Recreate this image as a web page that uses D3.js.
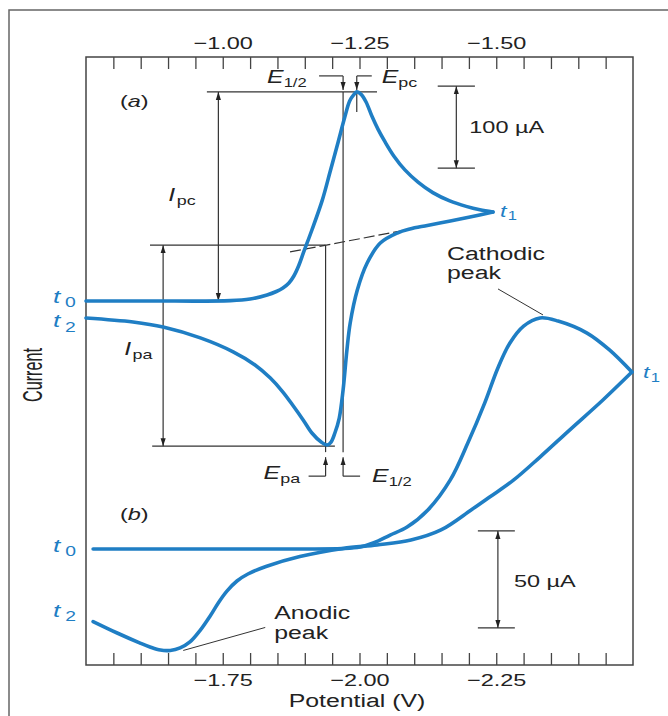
<!DOCTYPE html>
<html>
<head>
<meta charset="utf-8">
<style>
    body { margin: 0; background: #fff; }
    svg { display: block; font-family: 'Liberation Sans', Arial, Helvetica, sans-serif; }
    .axis .domain { display: none; }
    .axis .tick line { stroke: #444; stroke-width: 1.3px; }
    .axis .tick text { font-size: 17px; fill: #222; }
    .note { stroke: #333; stroke-width: 1.2px; fill: none; }
    .trace { fill: none; stroke: #1f7ec4; stroke-width: 3.6px; stroke-linejoin: round; stroke-linecap: round; }
</style>
</head>
<body>
<svg width="668" height="716"></svg>
<script src="https://d3js.org/d3.v7.min.js"></script>
<script>
// labelled potentials (V) on the two axes
let topTickLabels = [-1.00, -1.25, -1.50];
let bottomTickLabels = [-1.75, -2.00, -2.25];

// (a) reversible couple: [potential V, current µA from the t0 baseline]
let aForward = [[-0.750, 0], [-0.867, 0], [-1.014, 0.4], [-1.050, 2.4], [-1.081, 7.3], [-1.098, 11.6],
    [-1.110, 15.9], [-1.121, 22.0], [-1.130, 30.5], [-1.139, 43.3], [-1.148, 59.8], [-1.163, 86.6],
    [-1.182, 123], [-1.196, 157], [-1.211, 194], [-1.223, 224], [-1.232, 244], [-1.240, 252],
    [-1.245, 255], [-1.253, 252], [-1.262, 242.7], [-1.273, 224.9], [-1.284, 209.3], [-1.297, 193.7],
    [-1.313, 176.6], [-1.333, 159.9], [-1.357, 145.0], [-1.384, 132.2], [-1.415, 122.1],
    [-1.445, 115.4], [-1.470, 111.2], [-1.494, 108.5]];
let aReverse = [[-1.494, 108.5], [-1.452, 102.4], [-1.416, 97.6], [-1.374, 92.1], [-1.342, 87.8],
    [-1.319, 82.9], [-1.288, 70.7], [-1.264, 46.3], [-1.246, 13.4], [-1.233, -26.8], [-1.227, -59.8],
    [-1.220, -108.5], [-1.213, -142.7], [-1.205, -161], [-1.198, -172], [-1.191, -175.6], [-1.180, -172],
    [-1.163, -161], [-1.147, -145], [-1.129, -128], [-1.110, -111], [-1.087, -94], [-1.059, -78],
    [-1.019, -62], [-0.959, -45], [-0.891, -31.7], [-0.836, -25.6], [-0.750, -20.7]];
// extrapolated cathodic baseline (dashed)
let aBaseline = [[-1.123, 59.8], [-1.3735, 91.5]];

// (b) irreversible case
let bForward = [[-1.513, 0], [-1.709, 0], [-1.891, 0], [-1.968, 0.2], [-2.001, 1.0], [-2.025, 3.1],
    [-2.056, 7.2], [-2.087, 11.3], [-2.125, 20.1], [-2.166, 35.6], [-2.198, 54.6], [-2.229, 75.3],
    [-2.253, 93.3], [-2.275, 106.2], [-2.300, 114.9], [-2.330, 119.1], [-2.363, 117.5], [-2.416, 111.3],
    [-2.457, 102.6], [-2.498, 91.2]];
let bReverse = [[-2.498, 91.2], [-2.445, 76.8], [-2.384, 61.3], [-2.330, 47.4], [-2.282, 35.6],
    [-2.238, 26.8], [-2.204, 20.1], [-2.149, 9.8], [-2.094, 4.6], [-2.032, 2.1], [-1.970, 0.3],
    [-1.891, -3.9], [-1.829, -9.0], [-1.796, -12.9], [-1.776, -16.5], [-1.758, -21.6], [-1.743, -27.3],
    [-1.727, -34.5], [-1.709, -41.8], [-1.690, -47.9], [-1.672, -51.0], [-1.654, -52.3], [-1.636, -52.1],
    [-1.617, -50.5], [-1.599, -48.5], [-1.557, -43.3], [-1.513, -37.4]];

// marked potentials and currents in (a)
let ePc = -1.245, iPc = 255;
let eHalf = -1.22;
let ePa = -1.188, iPa = -177;

const SX = 1.38; // the figure is stretched sideways, text too
const BLUE = "#1f7ec4";

let svg = d3.select("svg");
let plot = { left: 86, right: 633, top: 57, bottom: 665 };

let xA = d3.scaleLinear().domain([-0.75, -1.75]).range([plot.left, plot.right]);
let xB = d3.scaleLinear().domain([-1.50, -2.50]).range([plot.left, plot.right]);
let yA = d3.scaleLinear().domain([0, 100]).range([301, 219]);
let yB = d3.scaleLinear().domain([0, 50]).range([549, 452]);

let defs = svg.append("defs");
defs.append("marker")
    .attr("id", "arrow")
    .attr("viewBox", "0 -4 10 8")
    .attr("refX", 10).attr("refY", 0)
    .attr("markerWidth", 8).attr("markerHeight", 6.4)
    .attr("markerUnits", "userSpaceOnUse")
    .attr("orient", "auto-start-reverse")
    .append("path").attr("d", "M0,-3.2L10,0L0,3.2Z").style("fill", "#222");

// outer figure border
svg.append("path")
    .attr("d", "M9,716V10H668")
    .style("fill", "none").style("stroke", "#666").style("stroke-width", "1.5px");

// axes
let fmt = d3.format(".2f");
function tickText(labels) {
    return d => labels.some(v => Math.abs(v - d) < 1e-6) ? fmt(d) : "";
}

let topAxis = d3.axisTop(xA)
    .tickValues(d3.range(1, 20).map(k => -0.75 - k * 0.05))
    .tickSize(-12)
    .tickPadding(8)
    .tickFormat(tickText(topTickLabels));

let bottomAxis = d3.axisBottom(xB)
    .tickValues(d3.range(1, 20).map(k => -1.50 - k * 0.05))
    .tickSize(-12)
    .tickPadding(9)
    .tickFormat(tickText(bottomTickLabels));

svg.append("g").attr("class", "axis")
    .attr("transform", `translate(0,${plot.top})`)
    .call(topAxis);
svg.append("g").attr("class", "axis")
    .attr("transform", `translate(0,${plot.bottom})`)
    .call(bottomAxis);
svg.selectAll(".axis .tick text").attr("transform", `scale(${SX},1)`);

svg.append("rect")
    .attr("x", plot.left).attr("y", plot.top)
    .attr("width", plot.right - plot.left).attr("height", plot.bottom - plot.top)
    .style("fill", "none").style("stroke", "#444").style("stroke-width", "1.5px");

// helpers
function seg(x1, y1, x2, y2, arrows) {
    let l = svg.append("line").attr("class", "note")
        .attr("x1", x1).attr("y1", y1).attr("x2", x2).attr("y2", y2);
    if (arrows == "end" || arrows == "both") l.attr("marker-end", "url(#arrow)");
    if (arrows == "both") l.attr("marker-start", "url(#arrow)");
    return l;
}

function addLabel(x, y, parts, opts) {
    opts = opts || {};
    let t = svg.append("text")
        .attr("transform", `translate(${x},${y}) scale(${SX},1)`)
        .attr("text-anchor", opts.anchor || "start")
        .style("font-size", (opts.size || 18) + "px")
        .style("fill", opts.color || "#222");
    parts.forEach(p => {
        let s = t.append("tspan").text(p.text);
        if (p.italic) s.style("font-style", "italic");
        if (p.size) s.style("font-size", p.size + "px");
        if (p.dy) s.attr("dy", p.dy);
        if (p.dx) s.attr("dx", p.dx);
    });
    return t;
}

function tLabel(x, y, sub, size, subSize, gap, subDy) {
    addLabel(x, y, [
        { text: "t", italic: true },
        { text: sub, size: subSize, dx: gap, dy: subDy }
    ], { size: size, color: BLUE });
}

// ---- panel (a) annotations ----
let xPc = xA(ePc), yPc = yA(iPc);
let xH = xA(eHalf);
let xPa = xA(ePa), yPaBot = yA(iPa);
let slope = (aBaseline[1][1] - aBaseline[0][1]) / (aBaseline[1][0] - aBaseline[0][0]);
let yPaTop = yA(aBaseline[0][1] + slope * (ePa - aBaseline[0][0]));

// Ipc
seg(xA(-0.971), yPc, xA(-1.282), yPc);
let xIpc = xA(-0.992);
seg(xIpc, yA(0), xIpc, yPc, "both");
addLabel(xIpc - 50, (yA(0) + yPc) / 2 + 5, [{ text: "I", italic: true }, { text: "pc", size: 13, dy: 4, dx: 1 }]);

// Epc and E1/2 markers at top
seg(xPc, yPc - 16, xPc, yPc - 2, "end");
seg(xPc, yPc - 16, xPc + 15, yPc - 16);
seg(xPc, yPc, xPc, yPc + 20);
seg(xH, yPc - 16, xH, yPc - 2, "end");
seg(xH - 24, yPc - 16, xH, yPc - 16);
seg(xH, yPc, xH, yPaBot + 6);
addLabel(xH - 76, yPc - 9, [{ text: "E", italic: true }, { text: "1/2", size: 12, dy: 4 }]);
addLabel(xPc + 25, yPc - 9, [{ text: "E", italic: true }, { text: "pc", size: 13, dy: 4 }]);

// Ipa
seg(xA(-0.867), yPaTop, xPa, yPaTop);
seg(xA(-0.871), yPaBot, xA(-1.205), yPaBot);
let xIpa = xA(-0.891);
seg(xIpa, yPaTop, xIpa, yPaBot, "both");
addLabel(xIpa - 39, (yPaTop + yPaBot) / 2 + 9, [{ text: "I", italic: true }, { text: "pa", size: 13, dy: 4, dx: 1 }]);
seg(xPa, yPaTop, xPa, yPaBot + 6);

// Epa and E1/2 markers at bottom
seg(xPa, yPaBot + 30, xPa, yPaBot + 11, "end");
seg(xPa - 17, yPaBot + 30, xPa, yPaBot + 30);
seg(xH, yPaBot + 30, xH, yPaBot + 11, "end");
seg(xH, yPaBot + 30, xH + 17, yPaBot + 30);
addLabel(xPa - 62, yPaBot + 33, [{ text: "E", italic: true }, { text: "pa", size: 13, dy: 4 }]);
addLabel(xH + 29, yPaBot + 36, [{ text: "E", italic: true }, { text: "1/2", size: 12, dy: 4 }]);

// dashed extrapolated baseline
svg.append("line").attr("class", "note")
    .attr("x1", xA(aBaseline[0][0])).attr("y1", yA(aBaseline[0][1]))
    .attr("x2", xA(aBaseline[1][0])).attr("y2", yA(aBaseline[1][1]))
    .style("stroke-dasharray", "11,4");

// 100 µA scale bar
seg(xA(-1.393), yA(262), xA(-1.461), yA(262));
seg(xA(-1.393), yA(162), xA(-1.461), yA(162));
seg(xA(-1.427), yA(262), xA(-1.427), yA(162), "both");
addLabel(xA(-1.427) + 13, (yA(262) + yA(162)) / 2 + 6, [{ text: "100 µA" }], { size: 17 });

addLabel(120, 107, [{ text: "(" }, { text: "a", italic: true }, { text: ")" }], { size: 17 });

// ---- panel (b) annotations ----
seg(xB(-2.2164), yB(9.3), xB(-2.284), yB(9.3));
seg(xB(-2.2164), yB(-40.7), xB(-2.284), yB(-40.7));
seg(xB(-2.253), yB(9.3), xB(-2.253), yB(-40.7), "both");
addLabel(xB(-2.253) + 16, (yB(9.3) + yB(-40.7)) / 2 + 8, [{ text: "50 µA" }], { size: 17 });

let cPeak = bForward.reduce((a, b) => b[1] > a[1] ? b : a);
let cx = xB(cPeak[0]), cy = yB(cPeak[1]);
seg(cx - 42, cy - 29, cx + 3, cy - 3).style("stroke-width", "1px");
addLabel(cx - 93, cy - 58, [{ text: "Cathodic" }]);
addLabel(cx - 93, cy - 39, [{ text: "peak" }]);

let aPeak = bReverse.reduce((a, b) => b[1] < a[1] ? b : a);
let ax = xB(aPeak[0]), ay = yB(aPeak[1]);
seg(ax + 13, ay, ax + 95, ay - 23).style("stroke-width", "1px");
addLabel(ax + 104, ay - 31, [{ text: "Anodic" }]);
addLabel(ax + 104, ay - 11, [{ text: "peak" }]);

addLabel(120, 520, [{ text: "(" }, { text: "b", italic: true }, { text: ")" }], { size: 17 });

// ---- traces ----
function lineFor(x, y) {
    return d3.line().x(d => x(d[0])).y(d => y(d[1])).curve(d3.curveCatmullRom.alpha(0.5));
}
let lineA = lineFor(xA, yA), lineB = lineFor(xB, yB);
[aForward, aReverse].forEach(s => svg.append("path").attr("class", "trace").attr("d", lineA(s)));
[bForward, bReverse].forEach(s => svg.append("path").attr("class", "trace").attr("d", lineB(s)));

// time labels
tLabel(xA(aForward[0][0]) - 33, yA(aForward[0][1]) + 2, "0", 19, 14, 3.5, 4);
tLabel(xA(aReverse[aReverse.length - 1][0]) - 33, yA(aReverse[aReverse.length - 1][1]) + 9, "2", 19, 14, 3.5, 5);
tLabel(xA(aForward[aForward.length - 1][0]) + 7, yA(aForward[aForward.length - 1][1]) + 5, "1", 17, 12, 1, 3);
tLabel(xB(bForward[0][0]) - 40, yB(bForward[0][1]) + 3, "0", 19, 14, 3.5, 4);
tLabel(xB(bReverse[bReverse.length - 1][0]) - 40, yB(bReverse[bReverse.length - 1][1]) - 4.5, "2", 19, 14, 3.5, 4);
tLabel(xB(bForward[bForward.length - 1][0]) + 11, yB(bForward[bForward.length - 1][1]) + 6, "1", 17, 12, 1, 4);

// axis titles
addLabel(357, 707, [{ text: "Potential (V)" }], { anchor: "middle", size: 18 });
svg.append("text")
    .attr("transform", `translate(42,375) scale(${SX},1) rotate(-90)`)
    .attr("text-anchor", "middle")
    .attr("textLength", 54)
    .attr("lengthAdjust", "spacingAndGlyphs")
    .style("font-size", "20px")
    .style("fill", "#222")
    .text("Current");
</script>
</body>
</html>
